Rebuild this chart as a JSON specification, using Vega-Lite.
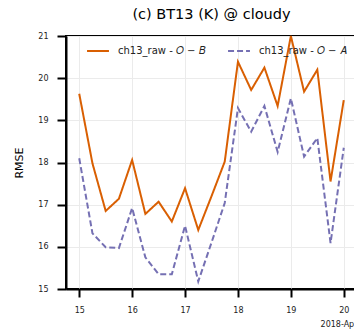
{
  "$schema": "https://vega.github.io/schema/vega-lite/v6.json",
  "autosize": {"type": "none"},
  "padding": {"left": 66, "top": 36, "right": 0, "bottom": 40},
  "width": 291,
  "height": 253,
  "background": "white",
  "config": {
    "font": "DejaVu Sans",
    "view": {"stroke": "black", "strokeWidth": 2}
  },
  "title": {
    "text": "(c) BT13 (K) @ cloudy",
    "font": "DejaVu Sans",
    "fontSize": 14.5,
    "fontWeight": "normal",
    "color": "black",
    "anchor": "middle",
    "offset": 10
  },
  "data": {
    "values": [
      {"time": "2018-04-15T00:00:00", "series": "ch13_raw - 𝑂 − 𝐵", "rmse": 19.63},
      {"time": "2018-04-15T06:00:00", "series": "ch13_raw - 𝑂 − 𝐵", "rmse": 17.98},
      {"time": "2018-04-15T12:00:00", "series": "ch13_raw - 𝑂 − 𝐵", "rmse": 16.85},
      {"time": "2018-04-15T18:00:00", "series": "ch13_raw - 𝑂 − 𝐵", "rmse": 17.14},
      {"time": "2018-04-16T00:00:00", "series": "ch13_raw - 𝑂 − 𝐵", "rmse": 18.06},
      {"time": "2018-04-16T06:00:00", "series": "ch13_raw - 𝑂 − 𝐵", "rmse": 16.78},
      {"time": "2018-04-16T12:00:00", "series": "ch13_raw - 𝑂 − 𝐵", "rmse": 17.07},
      {"time": "2018-04-16T18:00:00", "series": "ch13_raw - 𝑂 − 𝐵", "rmse": 16.6},
      {"time": "2018-04-17T00:00:00", "series": "ch13_raw - 𝑂 − 𝐵", "rmse": 17.39},
      {"time": "2018-04-17T06:00:00", "series": "ch13_raw - 𝑂 − 𝐵", "rmse": 16.4},
      {"time": "2018-04-17T12:00:00", "series": "ch13_raw - 𝑂 − 𝐵", "rmse": 17.2},
      {"time": "2018-04-17T18:00:00", "series": "ch13_raw - 𝑂 − 𝐵", "rmse": 18.02},
      {"time": "2018-04-18T00:00:00", "series": "ch13_raw - 𝑂 − 𝐵", "rmse": 20.39},
      {"time": "2018-04-18T06:00:00", "series": "ch13_raw - 𝑂 − 𝐵", "rmse": 19.72},
      {"time": "2018-04-18T12:00:00", "series": "ch13_raw - 𝑂 − 𝐵", "rmse": 20.25},
      {"time": "2018-04-18T18:00:00", "series": "ch13_raw - 𝑂 − 𝐵", "rmse": 19.34},
      {"time": "2018-04-19T00:00:00", "series": "ch13_raw - 𝑂 − 𝐵", "rmse": 21.0},
      {"time": "2018-04-19T06:00:00", "series": "ch13_raw - 𝑂 − 𝐵", "rmse": 19.68},
      {"time": "2018-04-19T12:00:00", "series": "ch13_raw - 𝑂 − 𝐵", "rmse": 20.2},
      {"time": "2018-04-19T18:00:00", "series": "ch13_raw - 𝑂 − 𝐵", "rmse": 17.55},
      {"time": "2018-04-20T00:00:00", "series": "ch13_raw - 𝑂 − 𝐵", "rmse": 19.48},
      {"time": "2018-04-15T00:00:00", "series": "ch13_raw - 𝑂 − 𝐴", "rmse": 18.1},
      {"time": "2018-04-15T06:00:00", "series": "ch13_raw - 𝑂 − 𝐴", "rmse": 16.32},
      {"time": "2018-04-15T12:00:00", "series": "ch13_raw - 𝑂 − 𝐴", "rmse": 15.99},
      {"time": "2018-04-15T18:00:00", "series": "ch13_raw - 𝑂 − 𝐴", "rmse": 15.97},
      {"time": "2018-04-16T00:00:00", "series": "ch13_raw - 𝑂 − 𝐴", "rmse": 16.92},
      {"time": "2018-04-16T06:00:00", "series": "ch13_raw - 𝑂 − 𝐴", "rmse": 15.75},
      {"time": "2018-04-16T12:00:00", "series": "ch13_raw - 𝑂 − 𝐴", "rmse": 15.35},
      {"time": "2018-04-16T18:00:00", "series": "ch13_raw - 𝑂 − 𝐴", "rmse": 15.35},
      {"time": "2018-04-17T00:00:00", "series": "ch13_raw - 𝑂 − 𝐴", "rmse": 16.5},
      {"time": "2018-04-17T06:00:00", "series": "ch13_raw - 𝑂 − 𝐴", "rmse": 15.18},
      {"time": "2018-04-17T12:00:00", "series": "ch13_raw - 𝑂 − 𝐴", "rmse": 16.1},
      {"time": "2018-04-17T18:00:00", "series": "ch13_raw - 𝑂 − 𝐴", "rmse": 17.04},
      {"time": "2018-04-18T00:00:00", "series": "ch13_raw - 𝑂 − 𝐴", "rmse": 19.29},
      {"time": "2018-04-18T06:00:00", "series": "ch13_raw - 𝑂 − 𝐴", "rmse": 18.73},
      {"time": "2018-04-18T12:00:00", "series": "ch13_raw - 𝑂 − 𝐴", "rmse": 19.34},
      {"time": "2018-04-18T18:00:00", "series": "ch13_raw - 𝑂 − 𝐴", "rmse": 18.25},
      {"time": "2018-04-19T00:00:00", "series": "ch13_raw - 𝑂 − 𝐴", "rmse": 19.52},
      {"time": "2018-04-19T06:00:00", "series": "ch13_raw - 𝑂 − 𝐴", "rmse": 18.14},
      {"time": "2018-04-19T12:00:00", "series": "ch13_raw - 𝑂 − 𝐴", "rmse": 18.58},
      {"time": "2018-04-19T18:00:00", "series": "ch13_raw - 𝑂 − 𝐴", "rmse": 16.09},
      {"time": "2018-04-20T00:00:00", "series": "ch13_raw - 𝑂 − 𝐴", "rmse": 18.35}
    ]
  },
  "mark": {"type": "line", "strokeWidth": 2},
  "encoding": {
    "x": {
      "field": "time",
      "type": "temporal",
      "scale": {"domain": ["2018-04-14T18:00:00", "2018-04-20T06:00:00"]},
      "axis": {
        "title": "2018-Apr",
        "titleAnchor": "end",
        "titleAlign": "right",
        "titleFontSize": 8,
        "titleFontWeight": "normal",
        "titleColor": "#222",
        "titlePadding": 6,
        "format": "%-d",
        "values": ["2018-04-15T00:00:00", "2018-04-16T00:00:00", "2018-04-17T00:00:00", "2018-04-18T00:00:00", "2018-04-19T00:00:00", "2018-04-20T00:00:00"],
        "domain": true,
        "domainColor": "black",
        "domainWidth": 2,
        "tickColor": "black",
        "tickWidth": 2,
        "tickSize": 8,
        "labelFontSize": 8,
        "labelColor": "#222",
        "labelPadding": 9,
        "grid": true,
        "gridColor": "#ebebeb",
        "gridWidth": 1
      }
    },
    "y": {
      "field": "rmse",
      "type": "quantitative",
      "scale": {"domain": [15, 21], "nice": false, "zero": false},
      "axis": {
        "title": "RMSE",
        "titleFontSize": 11,
        "titleFontWeight": "normal",
        "titleColor": "black",
        "titlePadding": 13,
        "values": [15, 16, 17, 18, 19, 20, 21],
        "domainColor": "black",
        "domainWidth": 2,
        "tickColor": "black",
        "tickWidth": 2,
        "tickSize": 9,
        "labelFontSize": 8,
        "labelColor": "#222",
        "labelPadding": 9,
        "grid": true,
        "gridColor": "#ebebeb",
        "gridWidth": 1
      }
    },
    "color": {
      "field": "series",
      "type": "nominal",
      "sort": ["ch13_raw - 𝑂 − 𝐵", "ch13_raw - 𝑂 − 𝐴"],
      "scale": {"domain": ["ch13_raw - 𝑂 − 𝐵", "ch13_raw - 𝑂 − 𝐴"], "range": ["#d95f02", "#7570b3"]},
      "legend": {
        "title": null,
        "orient": "none",
        "legendX": 20,
        "legendY": 3,
        "direction": "horizontal",
        "padding": 0,
        "symbolType": "stroke",
        "symbolSize": 480,
        "symbolStrokeWidth": 2,
        "labelFontSize": 10,
        "labelColor": "#222",
        "labelOffset": 8,
        "columnPadding": 18,
        "fillColor": null,
        "strokeColor": null
      }
    },
    "strokeDash": {
      "field": "series",
      "type": "nominal",
      "sort": ["ch13_raw - 𝑂 − 𝐵", "ch13_raw - 𝑂 − 𝐴"],
      "scale": {"domain": ["ch13_raw - 𝑂 − 𝐵", "ch13_raw - 𝑂 − 𝐴"], "range": [[1, 0], [6, 3]]},
      "legend": null
    }
  }
}
